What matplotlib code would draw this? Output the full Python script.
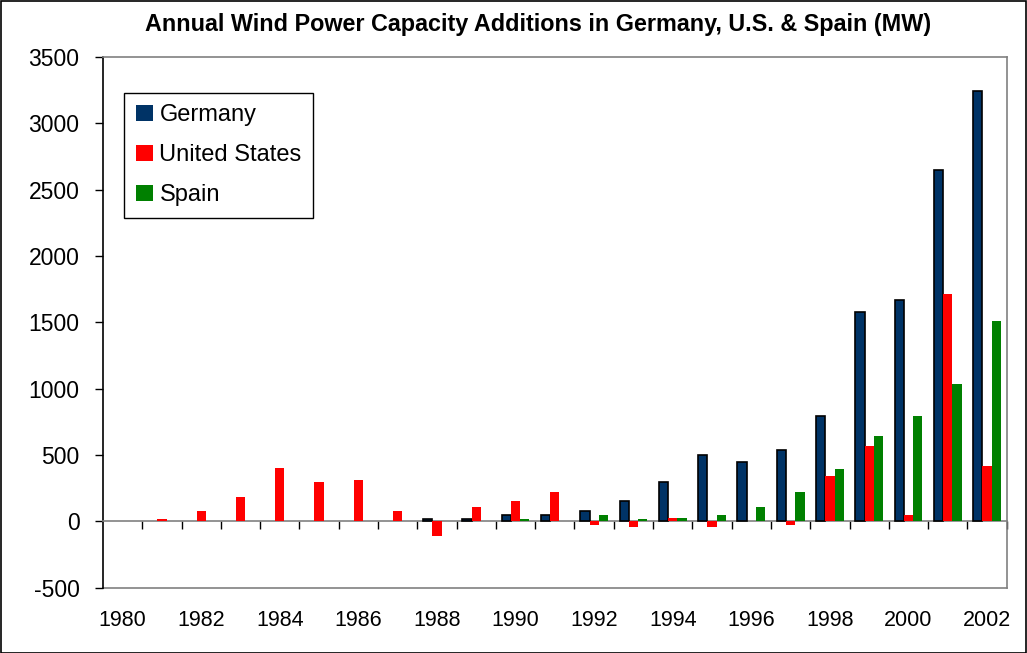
import matplotlib
matplotlib.use("Agg")
import matplotlib.pyplot as plt
import numpy as np

years = list(range(1980, 2003))
germany = [0, 0, 0, 0, 0, 0, 0, 0, 20, 20, 50, 50, 80, 150, 300, 500, 447, 535, 795, 1577, 1668, 2645, 3240]
united_states = [0, 15, 75, 180, 400, 300, 310, 75, -110, 105, 150, 225, -30, -45, 28, -45, 0, -25, 342, 568, 45, 1710, 417]
spain = [0, 0, 0, 0, 0, 0, 0, 0, 0, 0, 15, 0, 45, 15, 28, 45, 106, 224, 392, 647, 797, 1039, 1507]
series_names = ["Germany", "United States", "Spain"]
title = "Annual Wind Power Capacity Additions in Germany, U.S. & Spain (MW)"

plt.rcParams['font.family'] = ['Liberation Sans', 'DejaVu Sans']
plt.rcParams['axes.unicode_minus'] = False

W, H = 1027, 653
fig = plt.figure(figsize=(W / 100, H / 100), dpi=100)
ax = fig.add_axes([103 / W, 1 - 587.7 / H, (1006.7 - 103) / W, (587.7 - 57) / H])

x = np.arange(len(years))
w = 0.236
gray = '#808080'
g_lw = [1.2 if v != 0 else 0 for v in germany]
ax.bar(x - w, germany, w, color='#003366', edgecolor='black', linewidth=g_lw, label=series_names[0], zorder=3)
ax.bar(x, united_states, w, color='#FF0000', linewidth=0, label=series_names[1], zorder=3)
ax.bar(x + w, spain, w, color='#008000', linewidth=0, label=series_names[2], zorder=3)

ax.set_xlim(-0.5, len(years) - 0.5)
ax.set_ylim(-500, 3500)
ax.set_yticks(np.arange(-500, 3501, 500))
ax.tick_params(axis='y', direction='out', length=6, width=1, colors='black', labelsize=16.5, pad=11)

# category axis at zero
ax.spines['bottom'].set_position(('data', 0))
ax.spines['bottom'].set_color(gray)
ax.spines['bottom'].set_linewidth(1.2)
ax.spines['left'].set_color('black')
ax.spines['left'].set_linewidth(1.2)
ax.spines['top'].set_color(gray)
ax.spines['right'].set_color(gray)
ax.spines['top'].set_linewidth(1.2)
ax.spines['right'].set_linewidth(1.2)
ax.set_xticks(np.arange(0.5, len(years), 1.0))
ax.set_xticklabels([])
ax.tick_params(axis='x', direction='out', length=6, width=1, colors='black')

sec = ax.secondary_xaxis(0.0)
idx = [i for i, y in enumerate(years) if y % 2 == 0]
sec.set_xticks(idx)
sec.set_xticklabels([str(years[i]) for i in idx])
sec.tick_params(axis='x', length=0, labelsize=15.5, pad=16)
sec.spines['bottom'].set_color(gray)
sec.spines['bottom'].set_linewidth(1.2)

fig.text(0.5 * (145 + 932) / W, 1 - 24 / H, title, ha='center', va='center',
         fontsize=16.8, fontweight='bold')

leg = ax.legend(loc='upper left', bbox_to_anchor=(124 / W, 1 - 92.5 / H),
                bbox_transform=fig.transFigure, fontsize=17, frameon=True,
                fancybox=False, edgecolor='black', framealpha=1, borderaxespad=0,
                handlelength=0.72, handleheight=0.72, handletextpad=0.28,
                labelspacing=0.76, borderpad=0.5)
leg.get_frame().set_linewidth(1.0)

fig.patches.append(plt.Rectangle((0.5 / W, 0.5 / H), 1 - 1.5 / W, 1 - 1.5 / H,
                                 transform=fig.transFigure, fill=False,
                                 edgecolor='black', linewidth=1.2))

fig.savefig('out.png', dpi=100)
